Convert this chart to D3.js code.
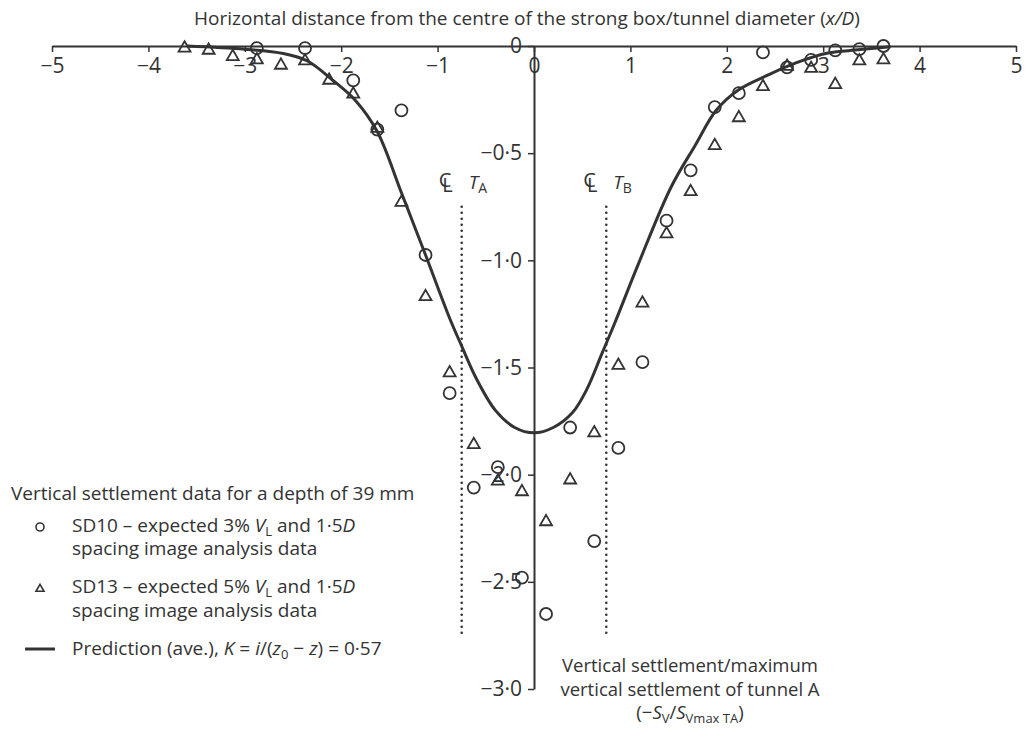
<!DOCTYPE html>
<html>
<head>
<meta charset="utf-8">
<script src="https://d3js.org/d3.v7.min.js"></script>
<style>
  body { margin: 0; background: #fff; }
  text { font-family: "Open Sans", "Noto Sans", sans-serif; fill: #333; }
</style>
</head>
<body>
<div id="chart"></div>
<script>
// tick values and labels
var xTicks = [-5, -4, -3, -2, -1, 0, 1, 2, 3, 4, 5];
var xTickLabels = ["\u22125", "\u22124", "\u22123", "\u22122", "\u22121", "0", "1", "2", "3", "4", "5"];
var yTicks = [0, -0.5, -1, -1.5, -2, -2.5, -3];
var yTickLabels = ["0", "\u22120\u00b75", "\u22121\u00b70", "\u22121\u00b75", "\u22122\u00b70", "\u22122\u00b75", "\u22123\u00b70"];

// SD10 (circles)
var sd10X = [-2.875, -2.375, -1.875, -1.625, -1.375, -1.125, -0.875, -0.625, -0.375, -0.125,
             0.125, 0.375, 0.625, 0.875, 1.125, 1.375, 1.625, 1.875, 2.125, 2.375,
             2.625, 2.875, 3.125, 3.375, 3.625];
var sd10Y = [-0.01, -0.01, -0.16, -0.39, -0.30, -0.975, -1.62, -2.06, -1.965, -2.48,
             -2.65, -1.78, -2.31, -1.875, -1.475, -0.815, -0.58, -0.285, -0.22, -0.03,
             -0.10, -0.065, -0.02, -0.015, 0];

// SD13 (triangles)
var sd13X = [-3.625, -3.375, -3.125, -2.875, -2.625, -2.375, -2.125, -1.875, -1.625, -1.375,
             -1.125, -0.875, -0.625, -0.375, -0.125, 0.125, 0.375, 0.625, 0.875, 1.125,
             1.375, 1.625, 1.875, 2.125, 2.375, 2.625, 2.875, 3.125, 3.375, 3.625];
var sd13Y = [-0.01, -0.02, -0.05, -0.065, -0.09, -0.07, -0.16, -0.225, -0.385, -0.73,
             -1.17, -1.525, -1.86, -2.03, -2.08, -2.22, -2.025, -1.805, -1.49, -1.20,
             -0.877, -0.68, -0.465, -0.335, -0.19, -0.095, -0.105, -0.18, -0.07, -0.065];

// prediction curve
var predX = [-3.6, -3.0, -2.6, -2.35, -2.1, -1.85, -1.625, -1.375, -1.125, -0.875, -0.75, -0.6, -0.4, -0.2, 0,
             0.2, 0.4, 0.55, 0.70, 0.84, 1.08, 1.42, 1.67, 1.89, 2.12, 2.43, 2.71, 3.05, 3.36, 3.7];
var predY = [0, -0.015, -0.035, -0.07, -0.155, -0.255, -0.40, -0.685, -0.975, -1.27, -1.40, -1.55, -1.70, -1.78, -1.805,
             -1.78, -1.71, -1.60, -1.44, -1.29, -1.02, -0.66, -0.465, -0.30, -0.205, -0.135, -0.08, -0.033, -0.018, -0.003];

// tunnel centrelines
var tunnels = [{x: -0.75, name: "A"}, {x: 0.75, name: "B"}];

var width = 1033, height = 731;

var svg = d3.select("#chart")
  .append("svg")
    .attr("width", width)
    .attr("height", height);

var x = d3.scaleLinear().domain([-5, 5]).range([52, 1016]);
var y = d3.scaleLinear().domain([0, -3]).range([46, 689]);

// helper for text with italic / subscript parts
function richText(sel, parts, subSize) {
  var shifted = false;
  parts.forEach(function(p) {
    var t = sel.append("tspan").text(p.t);
    if (p.i) t.style("font-style", "italic");
    if (p.sub) {
      t.style("font-size", subSize + "px");
      if (!shifted) { t.attr("dy", 4); shifted = true; }
    } else if (shifted) {
      t.attr("dy", -4); shifted = false;
    }
  });
  return sel;
}

// X axis on top
var xAxis = svg.append("g")
  .attr("transform", "translate(0," + y(0) + ")")
  .call(d3.axisBottom(x).tickValues(xTicks).tickSize(6).tickSizeOuter(0)
    .tickFormat(function(d, i) { return xTickLabels[i]; }));
xAxis.select(".domain").attr("stroke", "#333").attr("stroke-width", 2);
xAxis.selectAll(".tick line").attr("stroke", "#333").attr("stroke-width", 1.5);
xAxis.selectAll(".tick text")
  .attr("y", 12)
  .style("font-size", "21px")
  .style("font-family", "'Open Sans', sans-serif")
  .attr("fill", "#333");

// Y axis through x = 0
var yAxis = svg.append("g")
  .attr("transform", "translate(" + x(0) + ",0)")
  .call(d3.axisLeft(y).tickValues(yTicks).tickSize(6).tickSizeOuter(0)
    .tickFormat(function(d, i) { return yTickLabels[i]; }));
yAxis.select(".domain").attr("stroke", "#333").attr("stroke-width", 2);
yAxis.selectAll(".tick line").attr("stroke", "#333").attr("stroke-width", 1.5);
yAxis.selectAll(".tick text")
  .attr("x", -12)
  .style("font-size", "21px")
  .style("font-family", "'Open Sans', sans-serif")
  .attr("fill", "#333");

// X axis title
richText(svg.append("text")
    .attr("x", 527)
    .attr("y", 25)
    .attr("text-anchor", "middle")
    .style("font-size", "19px"),
  [{t: "Horizontal distance from the centre of the strong box/tunnel diameter ("},
   {t: "x/D", i: true}, {t: ")"}], 13);

// Y axis title
var yTitle = svg.append("g").style("font-size", "18.5px");
yTitle.append("text").attr("x", 690).attr("y", 672).attr("text-anchor", "middle")
  .text("Vertical settlement/maximum");
yTitle.append("text").attr("x", 690).attr("y", 696).attr("text-anchor", "middle")
  .text("vertical settlement of tunnel A");
richText(yTitle.append("text").attr("x", 690).attr("y", 719).attr("text-anchor", "middle"),
  [{t: "(\u2212"}, {t: "S", i: true}, {t: "V", sub: true}, {t: "/"}, {t: "S", i: true},
   {t: "Vmax TA", sub: true}, {t: ")"}], 13);

// tunnel centrelines
svg.selectAll(".cl")
  .data(tunnels)
  .enter()
  .append("line")
    .attr("class", "cl")
    .attr("x1", function(d) { return x(d.x); })
    .attr("x2", function(d) { return x(d.x); })
    .attr("y1", y(-0.75))
    .attr("y2", y(-2.74))
    .attr("stroke", "#333")
    .attr("stroke-width", 2.6)
    .attr("stroke-linecap", "round")
    .attr("stroke-dasharray", "0,6");

// centreline symbol: a C with an L set through it
var clSym = svg.selectAll(".clsym")
  .data(tunnels)
  .enter()
  .append("text")
    .attr("class", "clsym")
    .attr("x", function(d) { return x(d.x) - 23; })
    .attr("y", 187)
    .style("font-size", "20px");
clSym.append("tspan").text("C");
clSym.append("tspan").attr("dx", -9).attr("dy", 5).text("L");

svg.selectAll(".cllab")
  .data(tunnels)
  .enter()
  .append("text")
    .attr("class", "cllab")
    .attr("x", function(d) { return x(d.x) + 7; })
    .attr("y", 189)
    .style("font-size", "19px")
    .each(function(d) {
      richText(d3.select(this), [{t: "T", i: true}, {t: d.name, sub: true}], 14);
    });

// prediction curve
var line = d3.line()
  .x(function(d) { return x(d[0]); })
  .y(function(d) { return y(d[1]); })
  .curve(d3.curveCatmullRom.alpha(0.5));

svg.append("path")
  .datum(d3.zip(predX, predY))
  .attr("d", line)
  .attr("fill", "none")
  .attr("stroke", "#333")
  .attr("stroke-width", 3);

// SD10 circles
svg.append("g")
  .selectAll("circle")
  .data(d3.zip(sd10X, sd10Y))
  .enter()
  .append("circle")
    .attr("cx", function(d) { return x(d[0]); })
    .attr("cy", function(d) { return y(d[1]); })
    .attr("r", 6)
    .attr("fill", "none")
    .attr("stroke", "#333")
    .attr("stroke-width", 1.8);

// SD13 triangles
var tri = d3.symbol().type(d3.symbolTriangle).size(62);
svg.append("g")
  .selectAll("path")
  .data(d3.zip(sd13X, sd13Y))
  .enter()
  .append("path")
    .attr("d", tri)
    .attr("transform", function(d) { return "translate(" + x(d[0]) + "," + y(d[1]) + ")"; })
    .attr("fill", "none")
    .attr("stroke", "#333")
    .attr("stroke-width", 1.8);

// legend
var legend = svg.append("g").style("font-size", "19px");
legend.append("text").attr("x", 11).attr("y", 500)
  .text("Vertical settlement data for a depth of 39 mm");

legend.append("circle")
  .attr("cx", 40).attr("cy", 527).attr("r", 4)
  .attr("fill", "none").attr("stroke", "#333").attr("stroke-width", 1.6);
richText(legend.append("text").attr("x", 72).attr("y", 532),
  [{t: "SD10 \u2013 expected 3% "}, {t: "V", i: true}, {t: "L", sub: true},
   {t: " and 1\u00b75"}, {t: "D", i: true}], 13);
legend.append("text").attr("x", 72).attr("y", 555).text("spacing image analysis data");

legend.append("path")
  .attr("d", d3.symbol().type(d3.symbolTriangle).size(28))
  .attr("transform", "translate(40,589)")
  .attr("fill", "none").attr("stroke", "#333").attr("stroke-width", 1.6);
richText(legend.append("text").attr("x", 72).attr("y", 593),
  [{t: "SD13 \u2013 expected 5% "}, {t: "V", i: true}, {t: "L", sub: true},
   {t: " and 1\u00b75"}, {t: "D", i: true}], 13);
legend.append("text").attr("x", 72).attr("y", 617).text("spacing image analysis data");

legend.append("line")
  .attr("x1", 25).attr("x2", 55).attr("y1", 649).attr("y2", 649)
  .attr("stroke", "#333").attr("stroke-width", 3);
richText(legend.append("text").attr("x", 72).attr("y", 655),
  [{t: "Prediction (ave.), "}, {t: "K", i: true}, {t: " = "}, {t: "i", i: true},
   {t: "/("}, {t: "z", i: true}, {t: "0", sub: true}, {t: " \u2212 "}, {t: "z", i: true},
   {t: ") = 0\u00b757"}], 13);
</script>
</body>
</html>
